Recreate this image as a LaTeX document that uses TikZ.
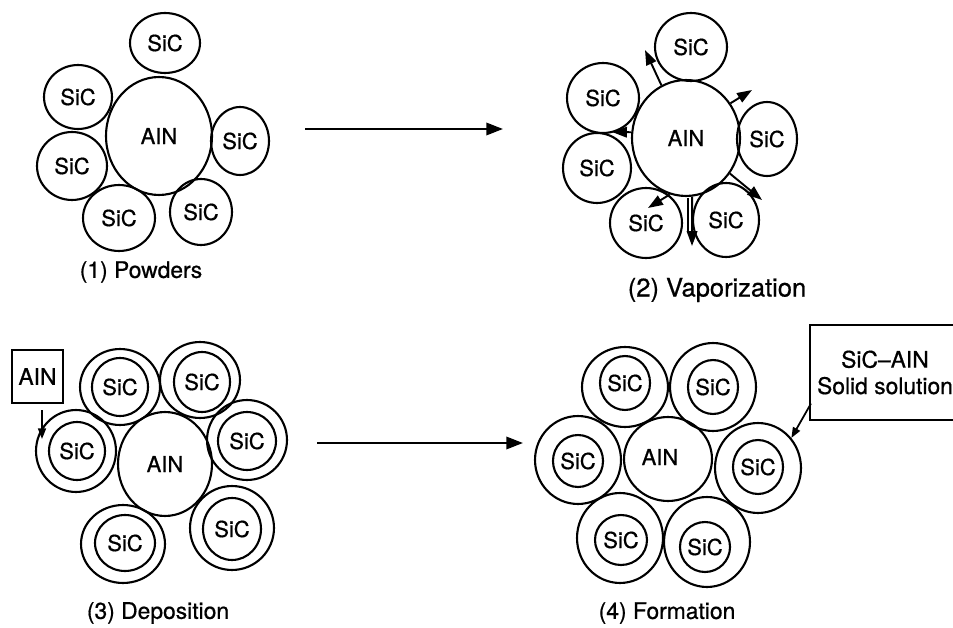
\documentclass[tikz,border=0pt]{standalone}
\usepackage{fontspec}
\setmainfont[FakeBold=0.7]{TeX Gyre Heros}
\usetikzlibrary{arrows.meta,shapes.geometric,calc}
\begin{document}
\begin{tikzpicture}[x=0.02cm,y=-0.02cm,
  blob/.style 2 args={ellipse,draw,line width=1.2pt,inner sep=0pt,
    minimum width={#1*0.04cm},minimum height={#2*0.04cm},font=\fontsize{12.5}{14}\selectfont},
  figlabel/.style={font=\fontsize{13}{16}\selectfont},
  bigarrow/.style={line width=1.4pt,-{Triangle[length=9.5pt,width=7pt]}},
  smallarrow/.style={line width=1.1pt,-{Triangle[length=8.5pt,width=6pt]}},
  tinyarrow/.style={line width=1pt,-{Triangle[length=6pt,width=4.5pt]}},
  boxnode/.style={draw,line width=1.2pt,inner sep=0pt,font=\fontsize{13}{15}\selectfont}]
\useasboundingbox (0,0) rectangle (953,628);
\clip (0,0) rectangle (953,628);
% ---------- Panel 1 ----------
\node[blob={35}{30}] (s1a) at (165,43) {SiC};
\node[blob={34}{32}] (s1b) at (78,97) {SiC};
\node[blob={53}{59}] (a1) at (159,136) {AIN};
\node[blob={29}{34}] (s1c) at (240,141) {SiC};
\node[blob={35}{34}] (s1d) at (72,166) {SiC};
\node[blob={36}{33}] (s1e) at (119,218) {SiC};
\node[blob={31}{33}] (s1f) at (201,212) {SiC};
\node[figlabel] (l1) at (141,272) {(1) Powders};
% ---------- top arrow ----------
\coordinate (t1) at (305,129);
\coordinate (t2) at (503,129);
\draw[bigarrow] (t1) -- (t2);
% ---------- Panel 2 ----------
\node[blob={36}{34}] (s2a) at (691,47) {SiC};
\node[blob={36}{35}] (s2b) at (603,98) {SiC};
\node[blob={54}{58}] (a2) at (686,138) {AIN};
\node[blob={30}{37}] (s2c) at (767,139) {SiC};
\node[blob={34}{35}] (s2d) at (597,168) {SiC};
\node[blob={36}{35}] (s2e) at (646,223) {SiC};
\node[blob={33}{37}] (s2f) at (726,220) {SiC};
\node[font=\fontsize{14.5}{16}\selectfont] (l2) at (717,290) {(2) Vaporization};
\coordinate (v1) at (645,50);
\coordinate (v2) at (752,90);
\coordinate (v3) at (612,132);
\coordinate (v4) at (762,200);
\coordinate (v5) at (648,208);
\coordinate (v6) at (692,246);
\coordinate (v6a) at (688,198);
\coordinate (v6b) at (688,232);
\draw[smallarrow] (a2.115) -- (v1);
\draw[smallarrow] (a2.38) -- (v2);
\draw[smallarrow] (a2.174) -- (v3);
\draw[smallarrow] (a2.-39) -- (v4);
\draw[smallarrow] (a2.-106) -- (v5);
\draw[smallarrow] (a2.-84) -- (v6);
\draw[line width=0.9pt] (v6a) -- (v6b);
% ---------- Panel 3 ----------
\node[blob={40}{38}] (r3ao) at (120,387) {};
\node[blob={28}{29}] (r3ai) at (120,387) {SiC};
\node[blob={40}{38}] (r3bo) at (200,380) {};
\node[blob={28}{30}] (r3bi) at (202,382) {SiC};
\node[blob={40}{41}] (r3co) at (76,451) {};
\node[blob={28}{29}] (r3ci) at (77,451) {SiC};
\node[blob={40}{40}] (r3do) at (247,440) {};
\node[blob={29}{29}] (r3di) at (247,441) {SiC};
\node[blob={47}{52}] (a3) at (165,464) {AIN};
\node[blob={42}{39}] (r3eo) at (123,544) {};
\node[blob={30}{28}] (r3ei) at (125,543) {SiC};
\node[blob={42}{42}] (r3fo) at (232,528) {};
\node[blob={29}{31}] (r3fi) at (232,529) {SiC};
\node[boxnode,minimum width=1.02cm,minimum height=1.06cm] (b3) at (37.5,376.5) {AIN};
\coordinate (d1) at (42,410);
\coordinate (d2) at (42,439);
\draw[tinyarrow] (d1) -- (d2);
\node[figlabel] (l3) at (158,613) {(3) Deposition};
% ---------- bottom arrow ----------
\coordinate (t3) at (317,443);
\coordinate (t4) at (523,443);
\draw[bigarrow] (t3) -- (t4);
% ---------- Panel 4 ----------
\node[blob={43}{40}] (r4ao) at (625,387) {};
\node[blob={25}{27}] (r4ai) at (625,383) {SiC};
\node[blob={43}{44}] (r4bo) at (713,387) {};
\node[blob={25}{27}] (r4bi) at (713,387) {SiC};
\node[blob={43}{44}] (r4co) at (578,460) {};
\node[blob={25}{26}] (r4ci) at (578,461) {SiC};
\node[blob={44}{42}] (a4) at (668,459) {};
\node[font=\fontsize{12.5}{14}\selectfont] (a4t) at (660,457) {AIN};
\node[blob={43}{45}] (r4do) at (758,468) {};
\node[blob={24}{27}] (r4di) at (758,467) {SiC};
\node[blob={43}{45}] (r4eo) at (620,538) {};
\node[blob={26}{25}] (r4ei) at (621,540) {SiC};
\node[blob={43}{45}] (r4fo) at (707,542) {};
\node[blob={25}{25}] (r4fi) at (705,547) {SiC};
\node[boxnode,minimum width=3cm,minimum height=1.9cm,align=center] (b4) at (885,372.5) {SiC–AIN\\Solid solution};
\coordinate (f1) at ($(b4.south west)!0.18!(b4.north west)+(2,0)$);
\draw[tinyarrow] (f1) -- (r4do.42);
\node[figlabel] (l4) at (667,613) {(4) Formation};
\end{tikzpicture}
\end{document}
